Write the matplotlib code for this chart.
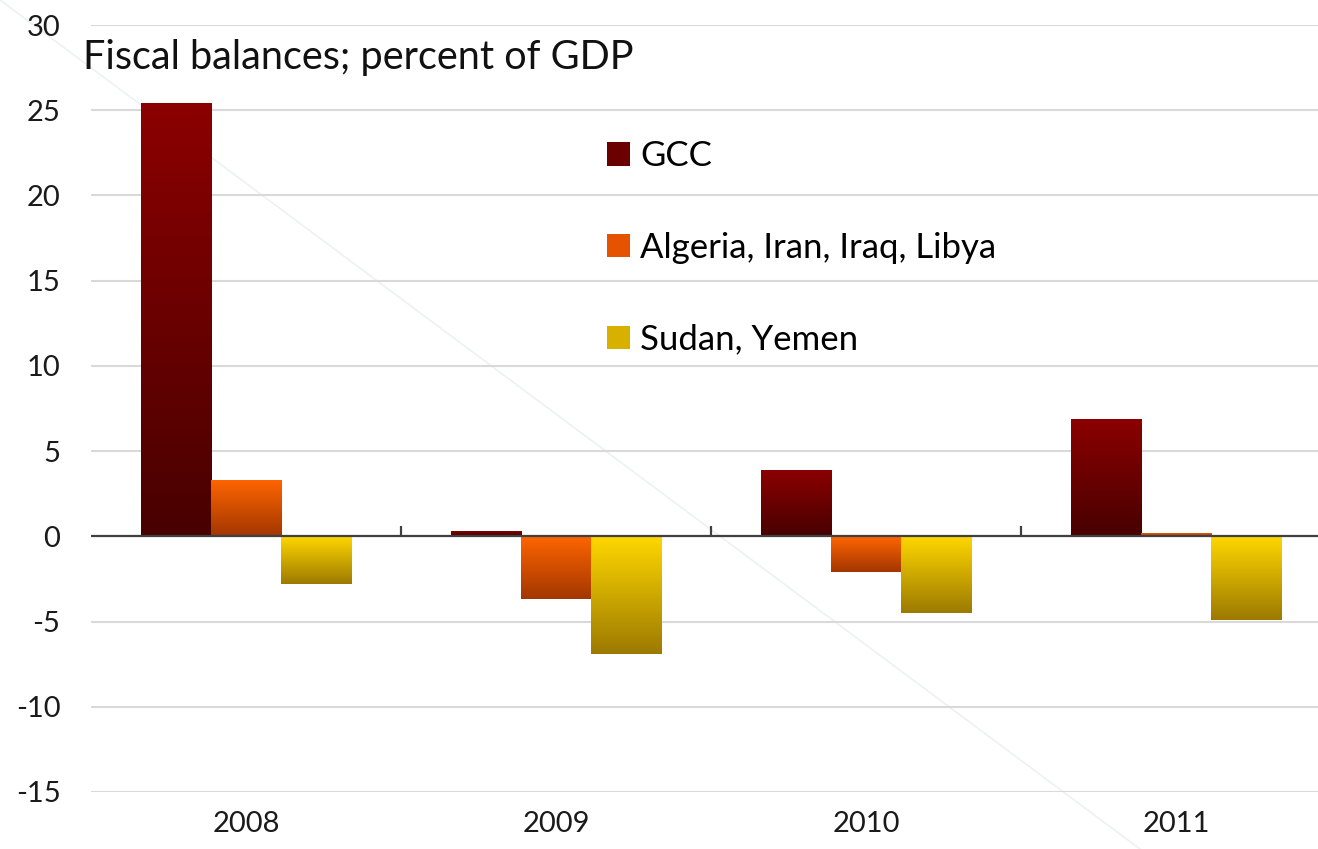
import numpy as np
import matplotlib
matplotlib.use("Agg")
import matplotlib.pyplot as plt
from matplotlib.colors import LinearSegmentedColormap
from matplotlib.patches import Patch
from matplotlib.lines import Line2D

# datos
years = ["2008", "2009", "2010", "2011"]
series_names = ["GCC", "Algeria, Iran, Iraq, Libya", "Sudan, Yemen"]
gcc = [25.4, 0.3, 3.9, 6.9]
algeria_iran_iraq_libya = [3.3, -3.7, -2.1, 0.2]
sudan_yemen = [-2.8, -6.9, -4.5, -4.9]
y_ticks = [-15, -10, -5, 0, 5, 10, 15, 20, 25, 30]

# colores (claro arriba, oscuro abajo)
top_colors = ["#8c0000", "#ff6600", "#ffd700"]
bottom_colors = ["#480000", "#a33600", "#9c7a00"]
mid_colors = ["#6a0000", "#e65300", "#d8b000"]

plt.rcParams['font.family'] = ['Lato', 'DejaVu Sans']

W, H = 1318, 849
fig = plt.figure(figsize=(W / 100, H / 100), dpi=100)
ax = fig.add_axes([91 / W, 57 / H, (1331 - 91) / W, (792 - 25) / H])
ax.set_facecolor('none')

x = np.arange(len(years))
bw = 0.226
data = [gcc, algeria_iran_iraq_libya, sudan_yemen]

grad = np.linspace(0, 1, 256).reshape(-1, 1)
for i, vals in enumerate(data):
    bars = ax.bar(x + (i - 1) * bw, vals, width=bw, color=mid_colors[i],
                  edgecolor='none', zorder=2, label=series_names[i])
    cmap = LinearSegmentedColormap.from_list("g%d" % i, [bottom_colors[i], top_colors[i]])
    for b in bars:
        bx, by = b.get_x(), b.get_y()
        bwid, bh = b.get_width(), b.get_height()
        lo, hi = min(by, by + bh), max(by, by + bh)
        im = ax.imshow(grad, cmap=cmap, origin='lower', aspect='auto',
                       extent=[bx, bx + bwid, lo, hi], zorder=3)
        im.set_clip_path(b)

# linea del cero y marcas entre categorias
ax.axhline(0, color='#404040', lw=1.6, zorder=4)
ax.vlines(x[:-1] + 0.5, 0, 0.6, color='#404040', lw=1.6, zorder=4)

ax.set_xlim(-0.5, len(years) - 0.5)
ax.set_ylim(-15, 30)
ax.set_yticks(y_ticks)
ax.set_yticklabels([str(t) for t in y_ticks])
ax.set_xticks(x)
ax.set_xticklabels(years)
ax.grid(axis='y', color='#d9d9d9', lw=1.5, zorder=0)
ax.set_axisbelow(True)
ax.tick_params(axis='y', length=0, pad=22, labelsize=21, labelcolor='#1a1a1a')
ax.tick_params(axis='x', length=0, pad=14, labelsize=21, labelcolor='#1a1a1a')
for s in ax.spines.values():
    s.set_visible(False)

handles = [Patch(facecolor=c) for c in mid_colors]
ax.legend(handles, series_names, loc='upper left', frameon=False,
          bbox_to_anchor=(607 / W, 1 - 140 / H), bbox_transform=fig.transFigure,
          fontsize=25, handlelength=0.66, handleheight=0.66, handletextpad=0.3,
          labelspacing=1.72, borderpad=0, borderaxespad=0)

fig.text(83 / W, 1 - 57 / H, "Fiscal balances; percent of GDP", fontsize=28.5,
         va='center', ha='left', color='#111111')

# linea diagonal tenue del original (detras de todo)
fig.add_artist(Line2D([0, 1140 / W], [1, 0], transform=fig.transFigure,
                      color='#eef1f3', lw=1.2, zorder=-1))

fig.savefig("out.png", dpi=100)
